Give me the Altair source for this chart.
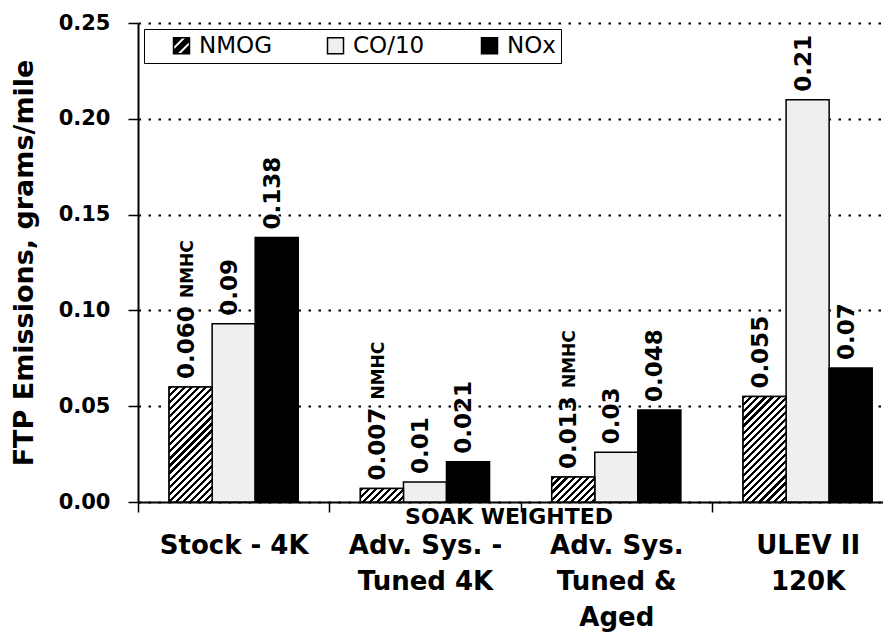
import math
import json
import altair as alt
import pandas as pd

# ---------------- data ----------------
categories = ["Stock - 4K", "Adv. Sys. -\nTuned 4K", "Adv. Sys.\nTuned &\nAged", "ULEV II\n120K"]
series = ["NMOG", "CO/10", "NOx"]
nmog = [0.060, 0.007, 0.013, 0.055]
co10 = [0.093, 0.0105, 0.026, 0.210]
nox = [0.138, 0.021, 0.048, 0.070]
nmog_labels = ["0.060", "0.007", "0.013", "0.055"]
co10_labels = ["0.09", "0.01", "0.03", "0.21"]
nox_labels = ["0.138", "0.021", "0.048", "0.07"]
nmog_notes = ["NMHC", "NMHC", "NMHC", ""]
y_ticks = [0.0, 0.05, 0.10, 0.15, 0.20, 0.25]
y_title = "FTP Emissions, grams/mile"
x_note = "SOAK WEIGHTED"

# ---------------- layout / style ----------------
PLOT_W = 745
PLOT_H = 479
X_MAX = 3.894
Y_MAX = 0.25
CAT_PX = PLOT_W / X_MAX
BAR_FRAC = 0.225
FONT = "DejaVu Sans"
DOT_FILL = "#efefef"

rows = []
for i in range(len(categories)):
    for j, (s, vals, labs) in enumerate(zip(series, [nmog, co10, nox],
                                            [nmog_labels, co10_labels, nox_labels])):
        xc = i + 0.5 + (j - 1) * BAR_FRAC
        rows.append(dict(cat_index=i, series=s, value=vals[i], label=labs[i],
                         note=nmog_notes[i] if s == "NMOG" else "",
                         xc=xc, x0=xc - BAR_FRAC / 2, x1=xc + BAR_FRAC / 2))
df = pd.DataFrame(rows)


def hatch(w, h, period=5.0, black=0.45):
    """Diagonal '/' stripes as a hard-stop linear gradient in bounding-box units."""
    s = (w + h) / (w * w + h * h)
    n = (w + h) / (math.sqrt(2) * period)
    stops = []
    k = 0
    while k < n:
        a = k / n
        b = min((k + black) / n, 1.0)
        c = min((k + 1) / n, 1.0)
        stops += [{"offset": a, "color": "black"}, {"offset": b, "color": "black"},
                  {"offset": b, "color": "white"}, {"offset": c, "color": "white"}]
        k += 1
    return {"gradient": "linear", "x1": 0, "y1": 0, "x2": s * w, "y2": s * h, "stops": stops}


def hatch_symbol():
    """Black square with two diagonal white slits (holes via reversed winding)."""
    outer = "M-1,-1L1,-1L1,1L-1,1Z"
    c1, c2 = -0.98, -0.36
    a = [(-1, c2 + 1), (c2 + 1, -1), (c1 + 1, -1), (-1, c1 + 1)]
    d1, d2 = 0.36, 0.98
    b = [(d2 - 1, 1), (1, d2 - 1), (1, d1 - 1), (d1 - 1, 1)]
    def poly(pts):
        return "M" + "L".join("%.2f,%.2f" % p for p in pts) + "Z"
    return outer + poly(a) + poly(b)


xs = alt.Scale(domain=[0, X_MAX], nice=False, zero=False)
ys = alt.Scale(domain=[0, Y_MAX], nice=False, zero=True)
fill_scale = alt.Scale(domain=series, range=["black", DOT_FILL, "black"])
shape_scale = alt.Scale(domain=series, range=[hatch_symbol(), "square", "square"])
stroke_scale = alt.Scale(domain=series, range=["black", "black", "black"])

label_expr = json.dumps([c.split("\n") for c in categories]) + "[datum.value]"

x_axis = alt.Axis(
    values=list(range(len(categories))), labelExpr=label_expr, labelOffset=CAT_PX / 2,
    labelFont=FONT, labelFontWeight="bold", labelFontSize=26, labelColor="black",
    labelLineHeight=36, labelPadding=20, labelBaseline="top", labelAlign="center",
    labelOverlap=False, labelFlush=False, labelBound=False,
    grid=False, domainColor="black", domainWidth=2, tickColor="black", tickWidth=1.5, tickSize=10,
    title=x_note, titleX=370.5, titleY=21, titleBaseline="alphabetic", titleAlign="center",
    titleFont=FONT, titleFontSize=22, titleFontWeight="bold", titleColor="black",
)

y_axis = alt.Axis(
    values=y_ticks, format=".2f", grid=True, gridColor="black", gridDash=[2.5, 7.5], gridWidth=2,
    gridOpacity=1, domainColor="black", domainWidth=2, tickColor="black", tickWidth=1.5, tickSize=10,
    labelFont=FONT, labelFontWeight="bold", labelFontSize=21, labelColor="black", labelPadding=18,
    labelOverlap=False,
    title=y_title, titleX=-106, titleY=PLOT_H / 2, titleAngle=270, titleAlign="center",
    titleBaseline="alphabetic", titleFont=FONT, titleFontSize=27, titleFontWeight="bold",
    titleColor="black",
)

legend_kw = dict(
    orient="none", legendX=6, legendY=6, direction="horizontal",
    title="\u2002", titleOrient="left", titlePadding=21, titleFontSize=22,
    padding=5, strokeColor="black", fillColor="white", gridAlign="all", columnPadding=52,
    labelOffset=6, symbolSize=256, symbolOpacity=1,
    symbolStrokeWidth=1.5, labelFont=FONT, labelFontSize=23, labelColor="black",
)

base = alt.Chart(df)

# invisible helper layer that carries the legend (fill + shape + stroke)
legend_layer = base.mark_point(filled=True, opacity=0, size=4, strokeWidth=1.5).encode(
    x=alt.X("xc:Q", scale=xs, axis=x_axis),
    y=alt.Y("value:Q", scale=ys, axis=y_axis),
    fill=alt.Fill("series:N", sort=series, scale=fill_scale, legend=alt.Legend(**legend_kw)),
    shape=alt.Shape("series:N", sort=series, scale=shape_scale, legend=alt.Legend(**legend_kw)),
    stroke=alt.Stroke("series:N", sort=series, scale=stroke_scale, legend=alt.Legend(**legend_kw)),
)

bars = base.mark_bar(stroke="black", strokeWidth=1.5).encode(
    x=alt.X("x0:Q", scale=xs, axis=x_axis),
    x2="x1:Q",
    y=alt.Y("value:Q", scale=ys, axis=y_axis),
    y2=alt.datum(0),
    fill=alt.Fill("series:N", sort=series, scale=fill_scale, legend=None),
)

hatch_layers = []
for i, v in enumerate(nmog):
    h = v / Y_MAX * PLOT_H
    w = BAR_FRAC * CAT_PX
    hatch_layers.append(
        base.transform_filter((alt.datum.series == "NMOG") & (alt.datum.cat_index == i))
        .mark_bar(fill=hatch(w, h), stroke="black", strokeWidth=1.5)
        .encode(
            x=alt.X("x0:Q", scale=xs, axis=x_axis),
            x2="x1:Q",
            y=alt.Y("value:Q", scale=ys, axis=y_axis),
            y2=alt.datum(0),
        )
    )

value_text = base.mark_text(
    angle=270, align="left", baseline="middle", dx=8, dy=-4,
    font=FONT, fontWeight="bold", fontSize=23, color="black",
).encode(
    x=alt.X("xc:Q", scale=xs, axis=x_axis),
    y=alt.Y("value:Q", scale=ys, axis=y_axis),
    text="label:N",
)

note_text = base.transform_filter(alt.datum.note != "").mark_text(
    angle=270, align="left", baseline="middle", dx=89, dy=-3,
    font=FONT, fontWeight="bold", fontSize=17, color="black",
).encode(
    x=alt.X("xc:Q", scale=xs, axis=x_axis),
    y=alt.Y("value:Q", scale=ys, axis=y_axis),
    text="note:N",
)

chart = alt.layer(legend_layer, bars, *hatch_layers, value_text, note_text).properties(
    width=PLOT_W, height=PLOT_H,
    padding={"left": 130, "top": 15, "right": 0, "bottom": 135},
    autosize=alt.AutoSizeParams(type="none"),
).configure_view(strokeOpacity=0)

chart.save("out.html", embed_options={"renderer": "svg", "actions": False})
